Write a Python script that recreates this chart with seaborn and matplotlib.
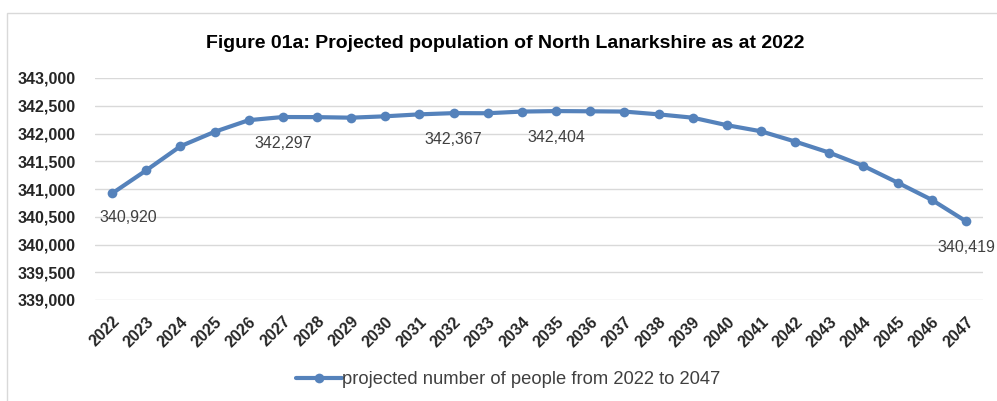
import matplotlib
matplotlib.use("Agg")
import matplotlib.pyplot as plt
import matplotlib.transforms as mtransforms
import seaborn as sns
import pandas as pd
from matplotlib.patches import Rectangle
from matplotlib.lines import Line2D
from matplotlib.ticker import FuncFormatter

years = list(range(2022, 2048))
population = [340920, 341336, 341770, 342030, 342240, 342297, 342295, 342285,
              342310, 342345, 342367, 342365, 342395, 342404, 342400, 342395,
              342345, 342285, 342150, 342040, 341855, 341655, 341415, 341115,
              340805, 340419]
labelled_years = [2022, 2027, 2032, 2035, 2047]
title = "Figure 01a: Projected population of North Lanarkshire as at 2022"
series_name = "projected number of people from 2022 to 2047"

sns.set_theme(style="white")
plt.rcParams['font.family'] = ['Liberation Sans', 'DejaVu Sans']

df = pd.DataFrame({"year": years, "population": population})

fig = plt.figure(figsize=(9.97, 4.01), dpi=100)
ax = fig.add_axes([95/997, 1 - 300/401, (983-95)/997, (300-78)/401])

# outer chart border
fig.patches.append(Rectangle((7/997, -0.05), 1.2, 1 - 13/401 + 0.05, transform=fig.transFigure,
                             fill=False, edgecolor="#d9d9d9", linewidth=1.0))

color = "#5582bb"
sns.lineplot(data=df, x="year", y="population", ax=ax, color=color, linewidth=3.0,
             marker="o", markersize=7, markeredgewidth=0, legend=False, clip_on=False)

ax.set_ylim(339000, 343000)
ax.set_xlim(2021.5, 2047.5)
ax.set_yticks(range(339000, 343001, 500))
ax.yaxis.set_major_formatter(FuncFormatter(lambda v, p: f"{int(v):,}"))
ax.set_xticks(years)
ax.set_xticklabels([str(y) for y in years], rotation=45, ha="right", rotation_mode="anchor",
                   fontsize=11.5, fontweight="bold", color="#262626")
shift = mtransforms.ScaledTranslation(-8/100, 0, fig.dpi_scale_trans)
for t in ax.get_xticklabels():
    t.set_transform(t.get_transform() + shift)
for t in ax.get_yticklabels():
    t.set_fontsize(11.5)
    t.set_fontweight("bold")
    t.set_color("#262626")
ax.tick_params(axis="y", length=0, pad=14)
ax.tick_params(axis="x", length=0, pad=10)
ax.grid(axis="y", color="#d9d9d9", linewidth=1)
ax.set_axisbelow(True)
for s in ax.spines.values():
    s.set_visible(False)
ax.set_xlabel("")
ax.set_ylabel("")

for y in labelled_years:
    v = population[years.index(y)]
    dx = 12 if y == 2022 else 0
    dy = -17 if y == 2022 else -19
    ax.annotate(f"{v:,}", (y, v), xytext=(dx, dy), textcoords="offset points",
                ha="center", va="center", fontsize=11.5, color="#404040")

fig.text(505/997, 1 - 43/401, title, ha="center", va="center", fontsize=14,
         fontweight="bold", color="#000000")

handle = Line2D([], [], color=color, linewidth=3.0, marker="o", markersize=7, markeredgewidth=0)
fig.legend([handle], [series_name], loc="center", bbox_to_anchor=(508/997, 1 - 380/401),
           frameon=False, fontsize=13.2, handlelength=2.5, handletextpad=0.0,
           labelcolor="#404040")

fig.savefig("out.png", dpi=100)
